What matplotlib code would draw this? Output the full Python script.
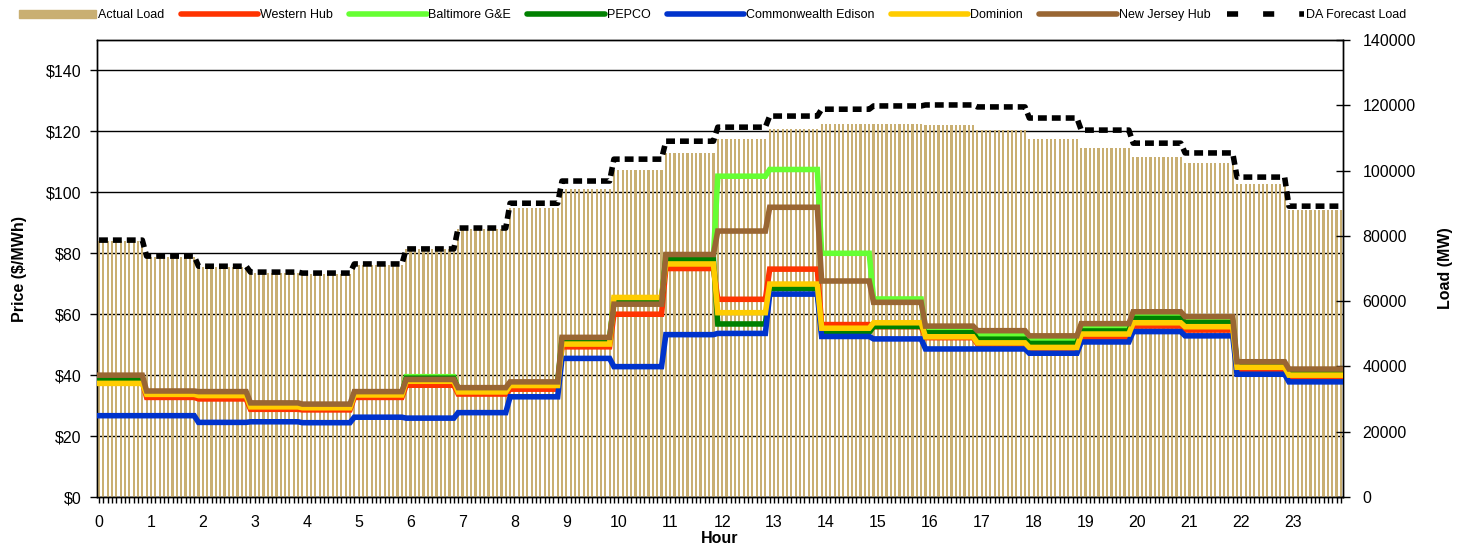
import numpy as np
import matplotlib.pyplot as plt
from matplotlib.lines import Line2D
from matplotlib.patches import Patch
from matplotlib.ticker import FuncFormatter

plt.rcParams['font.family'] = ['Liberation Sans', 'DejaVu Sans']

# hourly values (hour 0 .. 23)
hours = list(range(24))
steps_per_hour = 12   # 5 minute intervals on the category axis

actual_load = [78400, 73500, 70400, 68600, 68300, 71100, 76000, 82100, 88500, 94300, 100100, 105400,
               109700, 112700, 114200, 114200, 113900, 112400, 109700, 106900, 104100, 102300, 95900, 87900]
da_forecast = [78700, 73800, 70700, 68900, 68600, 71400, 76000, 82400, 90000, 96800, 103500, 109000,
               113300, 116700, 118800, 119800, 120100, 119500, 116100, 112400, 108400, 105400, 98000, 89100]

western_hub = [37.8, 32.7, 32.2, 28.8, 28.6, 32.7, 36.7, 33.8, 35.4, 49.3, 60.0, 75.0,
               64.9, 74.8, 56.6, 55.9, 52.3, 50.2, 48.7, 52.3, 56.1, 54.8, 41.5, 39.0]
baltimore = [39.2, 34.2, 34.0, 30.3, 29.9, 34.0, 39.5, 35.5, 37.3, 51.9, 64.8, 79.2,
             105.3, 107.5, 80.0, 65.0, 54.6, 53.4, 51.3, 55.6, 59.7, 57.9, 43.6, 41.4]
pepco = [38.7, 34.0, 33.8, 30.1, 29.7, 33.8, 39.0, 35.2, 37.0, 51.5, 64.3, 78.0,
         56.8, 68.4, 54.0, 56.0, 53.9, 51.8, 50.4, 54.5, 58.6, 57.2, 43.2, 41.2]
comed = [26.7, 26.7, 24.5, 24.7, 24.4, 26.2, 25.9, 27.7, 32.9, 45.5, 42.8, 53.3,
         53.7, 66.6, 52.7, 51.9, 48.6, 48.6, 47.2, 50.9, 54.3, 52.9, 40.3, 37.8]
dominion = [37.3, 33.7, 33.3, 29.6, 29.3, 33.5, 38.0, 34.5, 36.6, 50.2, 65.5, 76.5,
            60.5, 69.9, 55.4, 57.2, 52.6, 50.6, 49.1, 53.5, 57.2, 55.9, 42.6, 40.0]
nj_hub = [40.0, 34.8, 34.6, 30.9, 30.5, 34.6, 38.6, 35.9, 37.8, 52.4, 63.3, 79.6,
          87.3, 95.1, 70.9, 63.9, 56.1, 54.6, 52.9, 56.9, 60.8, 59.2, 44.4, 42.0]

series = [('Western Hub', western_hub, '#FF3300'),
          ('Baltimore G&E', baltimore, '#66FF33'),
          ('PEPCO', pepco, '#008000'),
          ('Commonwealth Edison', comed, '#0033CC'),
          ('Dominion', dominion, '#FFCC00'),
          ('New Jersey Hub', nj_hub, '#996633')]

tan = '#C9AF72'

n = 24 * steps_per_hour
x = np.arange(n)
hour_idx = np.minimum((x + 1) // steps_per_hour, 23)

fig = plt.figure(figsize=(14.63, 5.48), dpi=100)
ax = fig.add_axes([0.0662, 0.093, 0.8518, 0.834])
ax_load = ax.twinx()
ax_top = ax.twinx()

# price axis (left) with gridlines underneath everything
ax.set_xlim(-0.5, n - 0.5)
ax.set_ylim(0, 150)
ax.set_yticks(np.arange(0, 141, 20))
ax.yaxis.set_major_formatter(FuncFormatter(lambda v, p: '$%d' % v))
ax.yaxis.grid(True, color='black', lw=1)
ax.set_axisbelow(True)
ax.set_xticks(np.arange(0, n, steps_per_hour))
ax.set_xticklabels([str(h) for h in hours])
ax.set_xticks(x, minor=True)
ax.tick_params(axis='x', which='both', direction='out', length=4, width=1, pad=9, labelsize=11.5)
ax.tick_params(axis='y', direction='out', length=5, width=1, pad=6, labelsize=11.5)
ax.set_xlabel('Hour', fontweight='bold', fontsize=11.5, labelpad=1)
ax.set_ylabel('Price ($/MWh)', fontweight='bold', fontsize=11.5, labelpad=14)

# load axis (right)
ax_load.bar(x, np.array(actual_load)[hour_idx], width=0.5, color=tan, linewidth=0)
ax_load.plot(x, np.array(da_forecast)[hour_idx], color='black', lw=4,
             dashes=(1.6, 0.9), dash_capstyle='butt', zorder=5)
ax_load.set_ylim(0, 140000)
ax_load.set_yticks(np.arange(0, 140001, 20000))
ax_load.tick_params(axis='y', direction='inout', length=10, width=1, pad=9, labelsize=11.5)
ax_load.set_ylabel('Load (MW)', fontweight='bold', fontsize=11.5, labelpad=16)

# price lines on top
for name, vals, col in series:
    ax_top.plot(x, np.array(vals)[hour_idx], color=col, lw=4, solid_joinstyle='miter')
ax_top.set_ylim(0, 150)
ax_top.axis('off')

for a in (ax, ax_load):
    for s in a.spines.values():
        s.set_color('black')
        s.set_linewidth(1)

handles = [Patch(color=tan)]
labels = ['Actual Load']
for name, vals, col in series:
    handles.append(Line2D([], [], color=col, lw=4, solid_capstyle='round'))
    labels.append(name)
handles.append(Line2D([], [], color='black', lw=4, dashes=(2, 4.5), dash_capstyle='butt'))
labels.append('DA Forecast Load')

fig.legend(handles, labels, loc='center', bbox_to_anchor=(0.487, 0.972), ncol=8, frameon=False,
           fontsize=9, handlelength=6.2, handletextpad=0.15, columnspacing=1.3)

fig.savefig('out.png', dpi=100)
